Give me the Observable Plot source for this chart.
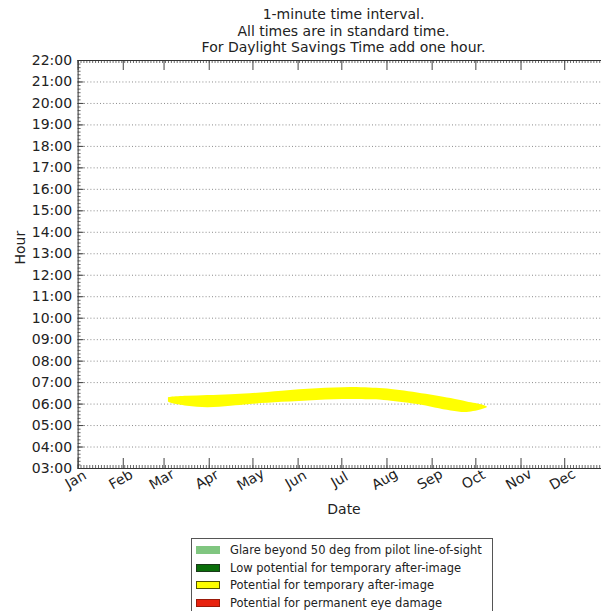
<!DOCTYPE html>
<html>
<head>
<meta charset="utf-8">
<script src="https://cdn.jsdelivr.net/npm/d3@7"></script>
<script src="https://cdn.jsdelivr.net/npm/@observablehq/plot@0.6"></script>
<style>
  html, body { margin: 0; padding: 0; background: #fff; overflow: hidden; }
  body { font-family: "DejaVu Sans", sans-serif; color: #222; }
  #wrap { position: relative; width: 601px; height: 611px; overflow: hidden; }
  #subtitle { position: absolute; left: 0; top: 6px; width: 687px; text-align: center; font-size: 14px; line-height: 16.5px; color: #222; }
  #legend { position: absolute; left: 191px; top: 538px; width: 300px; height: 90px; border: 1px solid #555; background: #fff; font-size: 11.5px; color: #222; }
  .sw { position: absolute; left: 4px; width: 24px; height: 8px; box-sizing: border-box; }
  .lab { position: absolute; left: 38px; white-space: nowrap; }
  #chart { position: absolute; left: 0; top: 0; width: 610px; }
  #chart svg { max-width: none !important; }
</style>
</head>
<body>
<div id="wrap">
  <div id="chart"></div>
  <div id="subtitle"></div>
  <div id="legend"></div>
</div>
<script>
// ---- data ----
const subtitleLines = ["1-minute time interval.", "All times are in standard time.", "For Daylight Savings Time add one hour."];
const monthNames = ["Jan","Feb","Mar","Apr","May","Jun","Jul","Aug","Sep","Oct","Nov","Dec"];
const monthStarts = [0,31,59,90,120,151,181,212,243,273,304,334];
const hourTicks = [3,4,5,6,7,8,9,10,11,12,13,14,15,16,17,18,19,20,21,22];
// glare band (day of year, earliest and latest hour with glare)
const bandDays = [62, 64, 75, 89, 105, 118, 140, 164, 187, 200, 210, 233, 256, 267, 278, 281];
const bandHigh = [6.30, 6.32, 6.36, 6.40, 6.44, 6.48, 6.60, 6.71, 6.77, 6.75, 6.71, 6.52, 6.26, 6.10, 5.95, 5.86];
const bandLow  = [6.10, 6.04, 5.90, 5.83, 5.90, 5.98, 6.08, 6.17, 6.21, 6.20, 6.17, 5.98, 5.68, 5.61, 5.76, 5.84];
const legendLabels = ["Glare beyond 50 deg from pilot line-of-sight", "Low potential for temporary after-image", "Potential for temporary after-image", "Potential for permanent eye damage"];
const legendFills = ["#80c680", "#0a6e0a", "#ffff00", "#e8230f"];
const legendStrokes = ["#80c680", "#1a3a1a", "#555500", "#9a1a0a"];

// ---- build ----
const band = bandDays.map((d, i) => ({day: d, low: bandLow[i], high: bandHigh[i]}));
const months = monthNames.map((m, i) => ({label: m, day: monthStarts[i]}));
const gridHours = hourTicks.filter(h => h > 3 && h < 22);
const minorDays = d3.range(0, 366, 2);
const minorHours = d3.range(3, 22.001, 1/6);

const W = 610, H = 611, mL = 77.6, mR = 0.6, mT = 60, mB = 143;
const frameH = H - mT - mB, frameW = W - mL - mR;
const fmtHour = h => String(h).padStart(2, "0") + ":00";

const chart = Plot.plot({
  width: W, height: H,
  marginLeft: mL, marginRight: mR, marginTop: mT, marginBottom: mB,
  style: {fontFamily: "DejaVu Sans, sans-serif", fontSize: "14px", color: "#222", background: "transparent", maxWidth: "none"},
  x: {type: "linear", domain: [0, 365], axis: null},
  y: {type: "linear", domain: [3, 22], axis: null},
  marks: [
    Plot.ruleY(gridHours, {y: d => d, stroke: "#8a8a8a", strokeDasharray: "1,2.2", strokeWidth: 1}),
    Plot.areaY(band, {x: "day", y1: "low", y2: "high", fill: "#ffff00", curve: "catmull-rom"}),
    // minor ticks
    Plot.ruleX(minorDays, {x: d => d, insetTop: frameH - 3, stroke: "#444", strokeWidth: 0.8}),
    Plot.ruleX(minorDays, {x: d => d, insetBottom: frameH - 3, stroke: "#444", strokeWidth: 0.8}),
    Plot.ruleY(minorHours, {y: d => d, insetRight: frameW - 3, stroke: "#444", strokeWidth: 0.8}),
    // major ticks
    Plot.ruleX(monthStarts, {x: d => d, insetTop: frameH - 10, stroke: "#444", strokeWidth: 1}),
    Plot.ruleX(monthStarts, {x: d => d, insetBottom: frameH - 10, stroke: "#444", strokeWidth: 1}),
    Plot.ruleY(hourTicks, {y: d => d, insetRight: frameW - 6, stroke: "#444", strokeWidth: 1}),
    Plot.frame({stroke: "#333", strokeWidth: 1}),
    Plot.axisY({ticks: hourTicks, tickFormat: fmtHour, tickSize: 0, tickPadding: 6, fontSize: 14, label: null}),
    Plot.text(months, {x: "day", text: "label", frameAnchor: "bottom", dy: 15, rotate: -30, fontSize: 14, fill: "#222"}),
    Plot.text(["Hour"], {frameAnchor: "left", dx: -58, rotate: -90, fontSize: 14, fill: "#222"}),
    Plot.text(["Date"], {frameAnchor: "bottom", dy: 45, fontSize: 14, fill: "#222"})
  ]
});
document.getElementById("chart").appendChild(chart);

document.getElementById("subtitle").innerHTML = subtitleLines.map(s => `<div>${s}</div>`).join("");

const leg = document.getElementById("legend");
const rowTops = [11, 28.5, 46, 63.5];
legendLabels.forEach((t, i) => {
  const sw = document.createElement("div");
  sw.className = "sw";
  sw.style.top = (rowTops[i] - 4) + "px";
  sw.style.background = legendFills[i];
  sw.style.border = "1px solid " + legendStrokes[i];
  leg.appendChild(sw);
  const lab = document.createElement("div");
  lab.className = "lab";
  lab.style.top = (rowTops[i] - 8) + "px";
  lab.style.lineHeight = "16px";
  lab.textContent = t;
  leg.appendChild(lab);
});
</script>
</body>
</html>
